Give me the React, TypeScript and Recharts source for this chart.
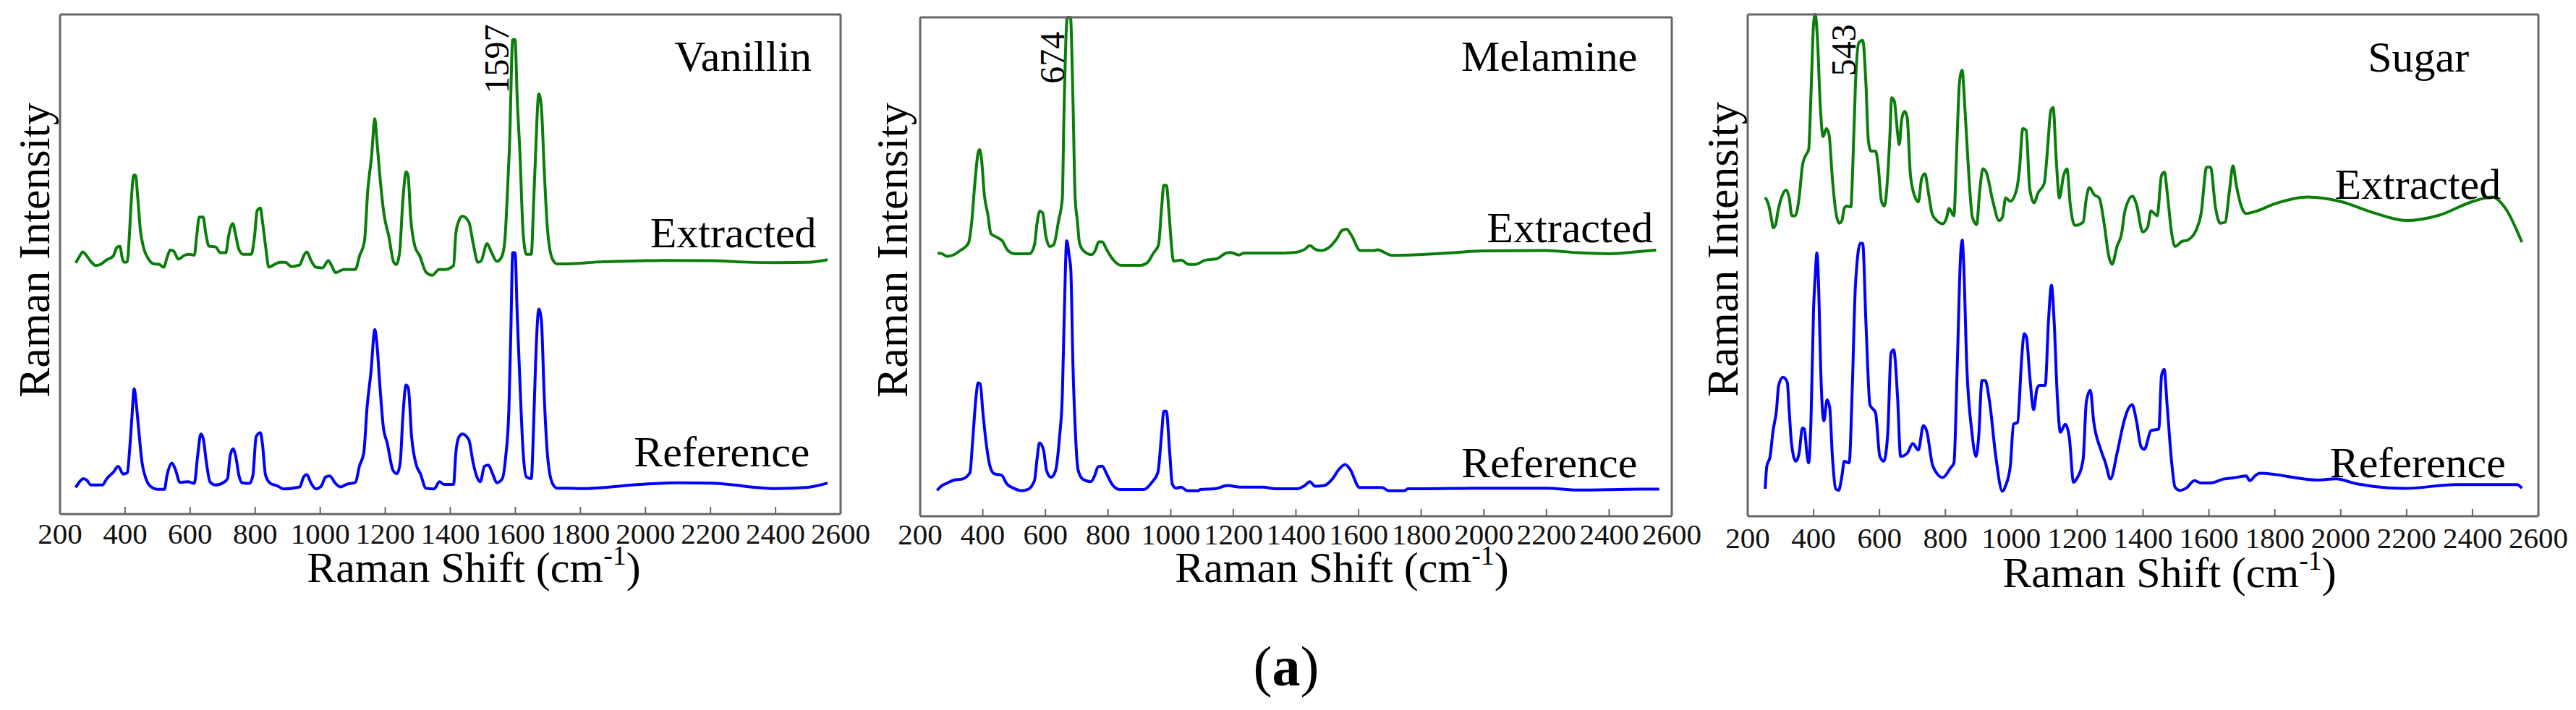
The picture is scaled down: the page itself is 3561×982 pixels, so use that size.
import React from 'react';
import { LineChart, Line, XAxis, YAxis, ReferenceDot } from 'recharts';

const shiftTicks = [200, 400, 600, 800, 1000, 1200, 1400, 1600, 1800, 2000, 2200, 2400, 2600];

type P = [number, number];

const vanillinExtracted: P[] = [[248,778],[258,795],[270,812],[280,803],[295,782],[310,770],[325,774],[344,788],[364,800],[374,825],[384,830],[392,790],[399,780],[407,782],[413,860],[419,970],[427,1050],[432,1050],[439,980],[447,880],[457,825],[471,792],[489,775],[504,774],[519,765],[529,795],[539,818],[549,815],[564,790],[583,802],[598,805],[613,802],[620,860],[628,920],[640,920],[648,870],[658,830],[678,828],[693,810],[710,810],[718,860],[731,900],[740,865],[750,820],[763,805],[788,805],[798,860],[806,940],[816,948],[822,910],[832,830],[842,765],[857,772],[877,780],[892,780],[912,767],[937,772],[949,800],[959,812],[972,785],[987,765],[1007,763],[1025,785],[1035,770],[1047,748],[1072,758],[1108,758],[1121,800],[1136,845],[1146,1000],[1158,1110],[1168,1225],[1174,1160],[1186,1020],[1196,930],[1211,860],[1226,780],[1234,773],[1244,810],[1254,970],[1264,1060],[1270,1050],[1278,920],[1291,830],[1306,800],[1325,750],[1345,740],[1365,758],[1385,758],[1410,770],[1417,870],[1427,910],[1437,923],[1457,905],[1470,840],[1485,780],[1495,785],[1513,838],[1527,810],[1543,783],[1557,795],[1567,840],[1574,960],[1582,1140],[1592,1470],[1599,1470],[1606,1280],[1614,1120],[1624,870],[1634,805],[1649,805],[1656,960],[1662,1110],[1672,1302],[1680,1260],[1689,1060],[1699,880],[1714,790],[1729,775],[1762,775],[1850,781],[2000,785],[2050,786],[2200,785],[2300,781],[2400,779],[2500,780],[2560,788]];

const vanillinReference: P[] = [[248,82],[260,100],[272,110],[282,105],[295,90],[330,90],[344,110],[364,130],[379,148],[394,124],[407,128],[414,200],[421,300],[428,388],[434,345],[442,260],[452,160],[464,110],[479,85],[499,77],[521,77],[529,120],[544,158],[554,140],[569,98],[593,100],[613,95],[623,180],[633,248],[640,235],[650,160],[661,100],[678,90],[703,98],[715,110],[723,180],[732,202],[740,180],[750,120],[760,97],[783,95],[793,120],[803,240],[816,252],[822,220],[832,120],[847,95],[867,88],[887,78],[937,84],[949,115],[959,122],[972,95],[987,78],[1002,85],[1017,115],[1029,118],[1047,95],[1062,84],[1081,92],[1108,98],[1121,150],[1134,190],[1144,330],[1156,440],[1168,572],[1174,530],[1184,390],[1194,270],[1206,220],[1224,135],[1236,125],[1246,160],[1254,300],[1264,400],[1271,390],[1281,240],[1296,150],[1308,125],[1325,80],[1350,78],[1367,100],[1380,92],[1410,92],[1417,190],[1427,240],[1437,248],[1457,230],[1470,160],[1480,120],[1492,100],[1505,148],[1517,152],[1530,125],[1543,97],[1560,110],[1570,175],[1580,320],[1586,560],[1592,810],[1599,810],[1606,610],[1614,410],[1624,190],[1634,115],[1649,110],[1656,270],[1662,460],[1672,635],[1680,600],[1689,360],[1699,180],[1714,95],[1729,80],[1762,80],[1800,79],[2000,93],[2100,97],[2200,96],[2400,79],[2500,83],[2560,96]];

const melamineExtracted: P[] = [[256,815],[269,813],[287,805],[308,810],[328,823],[354,845],[364,905],[375,1035],[385,1125],[390,1135],[396,1105],[405,995],[416,935],[426,875],[447,863],[462,853],[480,823],[503,813],[549,813],[565,840],[573,905],[582,945],[591,940],[601,870],[614,835],[626,840],[642,915],[654,985],[659,1235],[670,1545],[680,1545],[688,1285],[695,985],[702,915],[709,845],[724,820],[747,810],[760,825],[770,850],[781,850],[796,825],[812,800],[842,777],[904,777],[925,785],[945,815],[961,840],[971,955],[978,1025],[986,1025],[995,935],[1002,845],[1009,790],[1033,793],[1058,780],[1079,780],[1110,793],[1146,797],[1177,815],[1192,817],[1218,809],[1233,815],[1351,815],[1403,818],[1429,827],[1444,838],[1465,825],[1480,823],[1511,837],[1531,860],[1547,885],[1562,889],[1577,870],[1605,823],[1649,823],[1660,825],[1706,808],[1788,810],[1900,816],[2000,822],[2200,823],[2300,816],[2400,813],[2500,820],[2550,824]];

const melamineReference: P[] = [[254,80],[267,93],[287,103],[308,112],[334,115],[359,135],[367,225],[378,365],[385,413],[392,410],[400,325],[411,225],[423,155],[436,132],[460,127],[477,100],[498,87],[524,79],[544,83],[565,110],[573,175],[581,227],[594,205],[604,140],[618,121],[632,140],[645,245],[654,375],[660,615],[668,853],[676,805],[681,765],[688,465],[695,275],[704,145],[719,115],[745,107],[757,125],[768,153],[781,155],[796,130],[812,100],[837,83],[914,83],[940,105],[959,135],[971,255],[978,325],[986,325],[997,195],[1005,100],[1017,87],[1033,90],[1053,79],[1089,79],[1094,83],[1141,85],[1182,95],[1223,90],[1295,90],[1336,85],[1403,85],[1428,95],[1444,107],[1461,93],[1490,95],[1516,115],[1537,145],[1557,160],[1573,145],[1603,89],[1675,89],[1696,79],[1747,79],[1757,85],[1790,85],[2000,87],[2100,87],[2200,87],[2300,81],[2500,84],[2560,84]];

const sugarExtracted: P[] = [[253,987],[263,965],[273,915],[277,893],[284,900],[292,945],[302,985],[317,1010],[326,985],[334,930],[344,930],[356,985],[366,1085],[375,1115],[385,1135],[392,1305],[400,1525],[405,1553],[412,1470],[420,1275],[429,1175],[439,1200],[447,1180],[457,1045],[467,945],[478,907],[486,915],[493,953],[501,960],[513,957],[519,1085],[527,1335],[537,1465],[549,1473],[559,1335],[566,1165],[574,1130],[588,1130],[596,1085],[606,975],[615,960],[623,1025],[631,1165],[637,1295],[645,1285],[655,1185],[660,1150],[667,1225],[676,1253],[684,1235],[694,1055],[709,985],[718,973],[728,1045],[738,1060],[748,1005],[760,935],[774,915],[792,905],[804,925],[811,953],[826,930],[833,1095],[843,1345],[851,1380],[858,1285],[870,1075],[882,925],[895,903],[904,1005],[914,1075],[924,1065],[944,975],[963,915],[973,925],[983,985],[997,975],[1017,1015],[1025,1075],[1035,1200],[1045,1195],[1056,1015],[1069,970],[1081,1000],[1100,1030],[1110,1135],[1120,1255],[1127,1265],[1137,1095],[1146,985],[1159,1055],[1169,1075],[1179,965],[1193,900],[1218,910],[1228,985],[1237,1017],[1252,995],[1267,985],[1282,905],[1296,805],[1306,780],[1321,835],[1335,875],[1345,945],[1368,990],[1380,965],[1399,880],[1414,895],[1424,945],[1443,930],[1456,1055],[1465,1065],[1473,1005],[1487,875],[1497,835],[1517,850],[1536,855],[1561,885],[1576,935],[1593,1080],[1605,1080],[1620,955],[1634,907],[1649,910],[1662,1005],[1673,1085],[1683,1025],[1698,960],[1713,937],[1740,943],[1800,967],[1900,988],[2000,974],[2100,939],[2200,915],[2300,932],[2400,974],[2460,988],[2500,953],[2550,848]];

const sugarReference: P[] = [[253,85],[258,155],[268,185],[277,265],[287,325],[294,405],[307,430],[320,415],[326,325],[333,225],[346,170],[356,195],[366,273],[372,270],[380,190],[385,165],[392,295],[400,645],[405,745],[410,815],[416,685],[421,475],[431,295],[441,360],[449,335],[457,185],[467,85],[476,80],[486,125],[493,170],[508,165],[517,385],[527,715],[542,845],[549,845],[559,595],[571,345],[588,320],[601,185],[613,170],[625,255],[635,505],[643,515],[655,365],[664,185],[684,195],[701,225],[718,205],[733,280],[743,265],[762,155],[792,120],[816,150],[826,165],[836,465],[846,805],[851,855],[855,795],[865,465],[880,265],[893,185],[901,245],[911,420],[921,420],[934,355],[953,185],[973,77],[983,95],[997,155],[1007,285],[1019,290],[1032,495],[1039,565],[1046,555],[1056,435],[1068,330],[1078,395],[1086,405],[1103,405],[1113,605],[1122,715],[1130,605],[1140,365],[1149,260],[1164,285],[1176,245],[1189,105],[1198,115],[1218,175],[1228,355],[1240,390],[1250,295],[1272,205],[1286,165],[1301,115],[1321,195],[1340,285],[1350,320],[1367,345],[1380,295],[1394,215],[1404,207],[1424,265],[1448,270],[1456,435],[1464,455],[1473,345],[1487,165],[1497,90],[1512,80],[1531,87],[1556,110],[1576,103],[1605,103],[1644,115],[1683,120],[1713,125],[1724,110],[1740,125],[1755,133],[1930,112],[1985,116],[2050,100],[2195,86],[2350,98],[2535,98],[2550,87]];

const SERIF = '"Liberation Serif", serif';
const GREEN = '#0a7d0a';
const BLUE = '#0000ff';
const FRAME = '#666666';

type Note = { text: string; x: number; y: number; size?: number; angle?: number };

type PanelCfg = {
  chartLeft: number; chartWidth: number;
  plotLeft: number; plotRight: number; plotTop: number; plotBottom: number;
  yMax: number;
  extracted: P[]; reference: P[];
  notes: Note[];
  tickBaseline: number;
  xTitleCentre: number; xTitleBaseline: number;
  yTitleBaseline: number; yTitleCentre: number;
};

const panels: PanelCfg[] = [
  {
    chartLeft: 0, chartWidth: 1206, plotLeft: 83, plotRight: 1162, plotTop: 20, plotBottom: 711, yMax: 1548,
    extracted: vanillinExtracted, reference: vanillinReference,
    notes: [
      { text: 'Vanillin', x: 2300, y: 1422 },
      { text: 'Extracted', x: 2270, y: 875 },
      { text: 'Reference', x: 2235, y: 195 },
      { text: '1597', x: 1542, y: 1410, size: 48, angle: -90 },
    ],
    tickBaseline: 752, xTitleCentre: 655, xTitleBaseline: 805, yTitleBaseline: 68, yTitleCentre: 346,
  },
  {
    chartLeft: 1190, chartWidth: 1165, plotLeft: 1272, plotRight: 2311, plotTop: 24, plotBottom: 714, yMax: 1545,
    extracted: melamineExtracted, reference: melamineReference,
    notes: [
      { text: 'Melamine', x: 2209, y: 1427 },
      { text: 'Extracted', x: 2275, y: 897 },
      { text: 'Reference', x: 2209, y: 168 },
      { text: '674', x: 621, y: 1420, size: 48, angle: -90 },
    ],
    tickBaseline: 753, xTitleCentre: 1855, xTitleBaseline: 805, yTitleBaseline: 1254, yTitleCentre: 346,
  },
  {
    chartLeft: 2335, chartWidth: 1226, plotLeft: 2416, plotRight: 3509, plotTop: 20, plotBottom: 714, yMax: 1553,
    extracted: sugarExtracted, reference: sugarReference,
    notes: [
      { text: 'Sugar', x: 2236, y: 1424 },
      { text: 'Extracted', x: 2234, y: 1030 },
      { text: 'Reference', x: 2234, y: 168 },
      { text: '543', x: 490, y: 1443, size: 48, angle: -90 },
    ],
    tickBaseline: 758, xTitleCentre: 2999, xTitleBaseline: 812, yTitleBaseline: 2402, yTitleCentre: 345,
  },
];

const toRows = (pts: P[]) => pts.map(([shift, intensity]) => ({ shift, intensity }));

function Panel({ cfg }: { cfg: PanelCfg }) {
  const height = 982;
  const left = cfg.chartLeft;
  const BottomTick = (p: any) => (
    <g>
      <line x1={p.x} x2={p.x} y1={cfg.plotBottom} y2={cfg.plotBottom - 10} stroke={FRAME} strokeWidth={2} />
      <text x={p.x} y={cfg.tickBaseline} textAnchor="middle" fontFamily={SERIF} fontSize={41} fill="#111">
        {p.payload.value}
      </text>
    </g>
  );
  const TopTick = (p: any) => (
    <line x1={p.x} x2={p.x} y1={cfg.plotTop} y2={cfg.plotTop + 10} stroke={FRAME} strokeWidth={2} />
  );
  const XTitle = () => (
    <text x={cfg.xTitleCentre - left} y={cfg.xTitleBaseline} textAnchor="middle" fontFamily={SERIF} fontSize={60} fill="#000">
      Raman Shift (cm
      <tspan fontSize={38} dy={-24}>-1</tspan>
      <tspan dy={24}>)</tspan>
    </text>
  );
  const YTitle = () => {
    const x = cfg.yTitleBaseline - left;
    return (
      <text
        x={x}
        y={cfg.yTitleCentre}
        textAnchor="middle"
        fontFamily={SERIF}
        fontSize={62}
        fill="#000"
        transform={`rotate(-90 ${x} ${cfg.yTitleCentre})`}
      >
        Raman Intensity
      </text>
    );
  };
  return (
    <div style={{ position: 'absolute', left, top: 0, width: cfg.chartWidth, height }}>
      <LineChart
        width={cfg.chartWidth}
        height={height}
        margin={{
          left: cfg.plotLeft - left - 1,
          right: left + cfg.chartWidth - cfg.plotRight - 1,
          top: cfg.plotTop - 1,
          bottom: height - cfg.plotBottom - 1,
        }}
      >
        <XAxis
          dataKey="shift"
          type="number"
          domain={[200, 2600]}
          ticks={shiftTicks}
          interval={0}
          height={1}
          tickLine={false}
          tickSize={0}
          tickMargin={0}
          axisLine={{ stroke: FRAME, strokeWidth: 3 }}
          tick={BottomTick}
          label={{ content: XTitle }}
        />
        <XAxis
          xAxisId="top"
          orientation="top"
          dataKey="shift"
          type="number"
          domain={[200, 2600]}
          ticks={shiftTicks}
          interval={0}
          height={1}
          tickLine={false}
          tickSize={0}
          tickMargin={0}
          axisLine={{ stroke: FRAME, strokeWidth: 3 }}
          tick={TopTick}
        />
        <YAxis
          type="number"
          domain={[0, cfg.yMax]}
          width={1}
          tick={false}
          tickLine={false}
          axisLine={{ stroke: FRAME, strokeWidth: 3 }}
          label={{ content: YTitle }}
        />
        <YAxis
          yAxisId="right"
          orientation="right"
          type="number"
          domain={[0, cfg.yMax]}
          width={1}
          tick={false}
          tickLine={false}
          axisLine={{ stroke: FRAME, strokeWidth: 3 }}
        />
        <Line
          data={toRows(cfg.extracted)}
          dataKey="intensity"
          type="monotone"
          stroke={GREEN}
          strokeWidth={4}
          dot={false}
          activeDot={false}
          isAnimationActive={false}
        />
        <Line
          data={toRows(cfg.reference)}
          dataKey="intensity"
          type="monotone"
          stroke={BLUE}
          strokeWidth={4}
          dot={false}
          activeDot={false}
          isAnimationActive={false}
        />
        {cfg.notes.map((n) => (
          <ReferenceDot
            key={n.text}
            x={n.x}
            y={n.y}
            r={0}
            fill="none"
            stroke="none"
            label={{
              value: n.text,
              position: 'center',
              fontFamily: SERIF,
              fontSize: n.size ?? 60,
              fill: '#000',
              angle: n.angle ?? 0,
            }}
          />
        ))}
      </LineChart>
    </div>
  );
}

export default function App() {
  return (
    <div style={{ position: 'absolute', left: 0, top: 0, width: 3561, height: 982, background: '#fff', overflow: 'hidden' }}>
      {panels.map((cfg) => (
        <Panel key={cfg.chartLeft} cfg={cfg} />
      ))}
      <div style={{ position: 'absolute', left: 1678, width: 200, top: 878, textAlign: 'center', fontFamily: SERIF, fontSize: 78, lineHeight: '88px', color: '#000' }}>
        (<b>a</b>)
      </div>
    </div>
  );
}
